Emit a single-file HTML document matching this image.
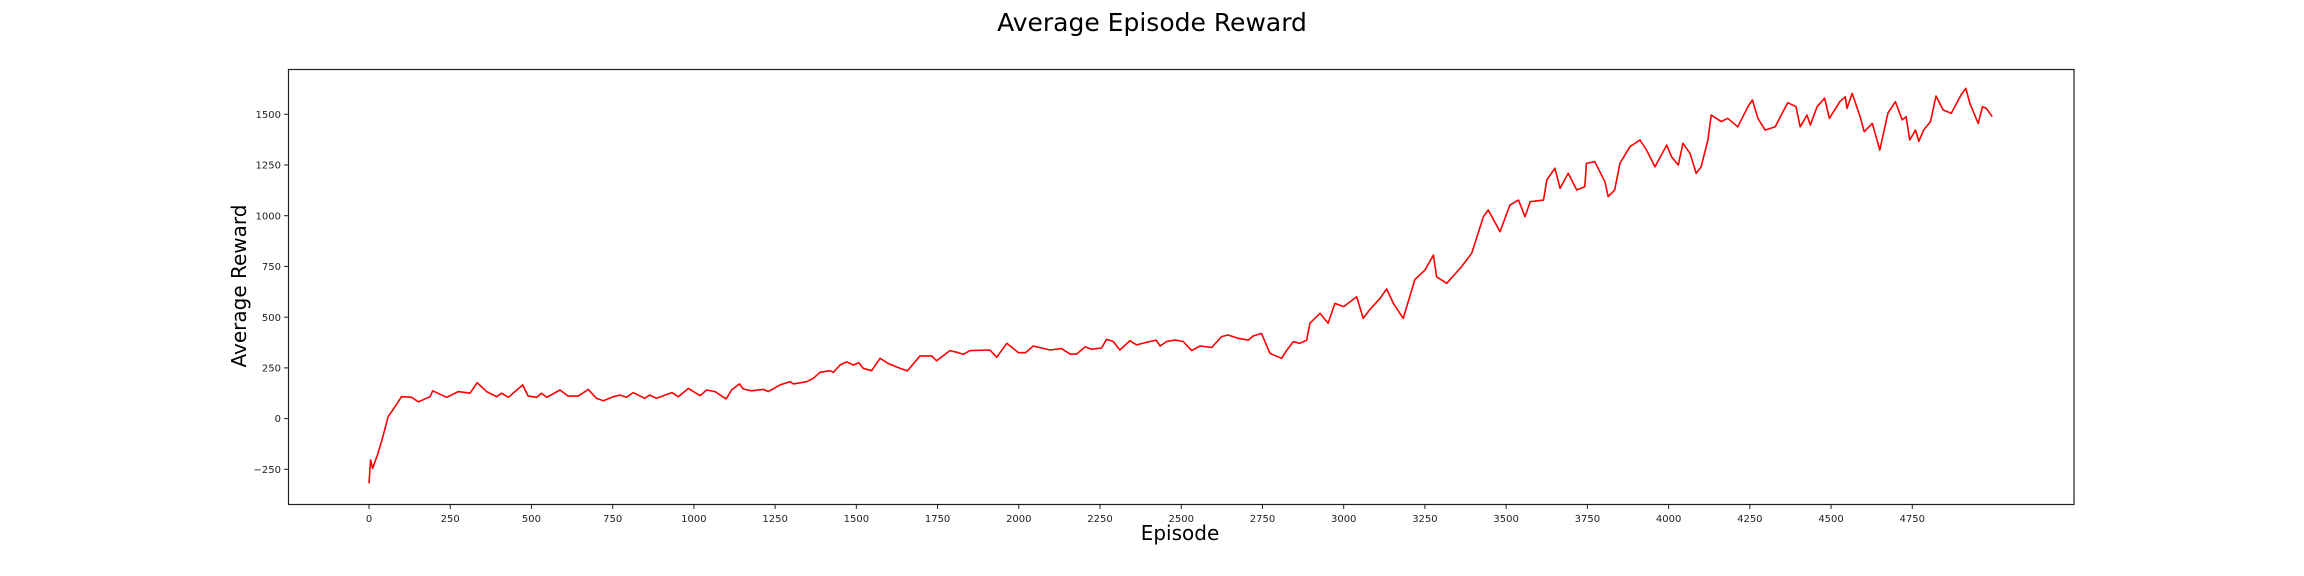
<!DOCTYPE html>
<html><head><meta charset="utf-8"><title>Average Episode Reward</title>
<style>
html,body{margin:0;padding:0;background:#fff;}
svg{display:block;font-family:"DejaVu Sans","Liberation Sans",sans-serif;}
</style></head>
<body>
<svg id="chart" width="2304" height="576" viewBox="0 0 2304 576" xmlns="http://www.w3.org/2000/svg">
<rect width="2304" height="576" fill="#fff"/>
<text x="1152" y="31" text-anchor="middle" font-size="25" fill="#000">Average Episode Reward</text>
<text x="1180" y="540" text-anchor="middle" font-size="20" fill="#000">Episode</text>
<text x="0" y="0" transform="translate(246,286) rotate(-90)" text-anchor="middle" font-size="20" fill="#000">Average Reward</text>
<g id="ticks"></g>
<path id="line" fill="none" stroke="#ff0000" stroke-width="1.6" stroke-linejoin="round"/>
<rect x="288.5" y="69.5" width="1785.5" height="435" fill="none" stroke="#222" stroke-width="1.2"/>
</svg>
<script>
const xTicks = [0,250,500,750,1000,1250,1500,1750,2000,2250,2500,2750,3000,3250,3500,3750,4000,4250,4500,4750];
const yTicks = [-250,0,250,500,750,1000,1250,1500];
const yTickLabels = ["\u2212250","0","250","500","750","1000","1250","1500"];
const episodes = [0,5,11,28,44,59,75,100,131,152,188,196,239,275,311,333,362,393,408,429,473,490,516,531,547,588,613,644,675,700,721,752,772,793,813,849,864,885,932,952,983,1019,1039,1065,1099,1116,1140,1152,1178,1214,1229,1265,1296,1306,1347,1368,1388,1419,1429,1450,1470,1491,1508,1521,1547,1573,1600,1634,1657,1696,1732,1747,1788,1814,1829,1850,1911,1932,1963,1999,2020,2045,2096,2131,2158,2178,2204,2224,2255,2270,2291,2311,2342,2363,2388,2423,2435,2455,2481,2506,2532,2558,2594,2624,2644,2675,2706,2721,2747,2773,2809,2824,2845,2865,2886,2896,2927,2952,2973,3000,3040,3060,3081,3112,3132,3153,3183,3219,3250,3276,3286,3317,3363,3394,3430,3445,3481,3512,3538,3558,3574,3615,3625,3650,3666,3691,3717,3742,3747,3773,3804,3814,3834,3850,3881,3912,3932,3958,3994,4009,4030,4044,4066,4085,4100,4121,4131,4162,4182,4213,4244,4258,4275,4297,4328,4352,4367,4392,4405,4426,4436,4457,4480,4495,4527,4544,4549,4565,4591,4602,4627,4650,4675,4698,4719,4731,4742,4760,4770,4785,4806,4823,4845,4870,4900,4915,4927,4953,4966,4978,4996];
const rewards = [-319,-204,-245,-170,-81,10,47,108,105,83,108,137,105,133,125,177,133,108,125,105,166,111,105,125,105,141,111,111,144,100,88,108,116,105,128,100,116,100,128,108,149,113,141,133,97,141,171,146,137,144,133,166,182,171,182,199,228,236,228,264,280,264,275,248,236,297,270,248,235,309,309,285,335,325,317,335,338,302,371,325,325,358,338,345,318,318,354,342,348,391,380,338,384,363,374,387,358,380,387,380,335,358,351,404,412,396,387,407,420,322,297,335,379,371,387,470,519,470,568,552,601,494,538,593,639,568,494,686,732,806,699,667,749,815,995,1028,921,1053,1077,995,1069,1077,1176,1234,1135,1209,1127,1143,1258,1266,1167,1094,1127,1258,1340,1373,1324,1241,1348,1291,1250,1357,1307,1209,1241,1373,1496,1464,1480,1438,1537,1570,1480,1422,1438,1513,1557,1537,1438,1496,1447,1537,1579,1480,1562,1586,1529,1603,1480,1414,1455,1324,1505,1562,1472,1488,1373,1422,1366,1422,1464,1590,1521,1505,1595,1628,1554,1455,1537,1529,1488];

const X0 = 369, XS = 0.3249;
const Y0 = 418.6, YS = 0.2029;
function xScale(v){ return X0 + v*XS; }
function yScale(v){ return Y0 - v*YS; }

const NS = "http://www.w3.org/2000/svg";
const tg = document.getElementById('ticks');
xTicks.forEach(function(t){
  const x = xScale(t);
  const l = document.createElementNS(NS,'line');
  l.setAttribute('x1',x); l.setAttribute('x2',x); l.setAttribute('y1',504.5); l.setAttribute('y2',509);
  l.setAttribute('stroke','#222'); l.setAttribute('stroke-width','1');
  
  
  tg.appendChild(l);
  const tx = document.createElementNS(NS,'text');
  tx.setAttribute('x',x); tx.setAttribute('y',522); tx.setAttribute('text-anchor','middle');
  tx.setAttribute('font-size','10'); tx.setAttribute('fill','#222');
  tx.textContent = String(t);
  
  
  tg.appendChild(tx);
});
yTicks.forEach(function(t,i){
  const y = yScale(t);
  const l = document.createElementNS(NS,'line');
  l.setAttribute('x1',284); l.setAttribute('x2',288.5); l.setAttribute('y1',y); l.setAttribute('y2',y);
  l.setAttribute('stroke','#222'); l.setAttribute('stroke-width','1');
  
  
  tg.appendChild(l);
  const tx = document.createElementNS(NS,'text');
  tx.setAttribute('x',281); tx.setAttribute('y',y+3.6); tx.setAttribute('text-anchor','end');
  tx.setAttribute('font-size','10'); tx.setAttribute('fill','#222');
  tx.textContent = yTickLabels[i];
  
  
  tg.appendChild(tx);
});
let d = '';
episodes.forEach(function(e,i){
  d += (i ? 'L' : 'M') + xScale(e).toFixed(1) + ' ' + yScale(rewards[i]).toFixed(1);
});
document.getElementById('line').setAttribute('d', d);
</script>
</body></html>
